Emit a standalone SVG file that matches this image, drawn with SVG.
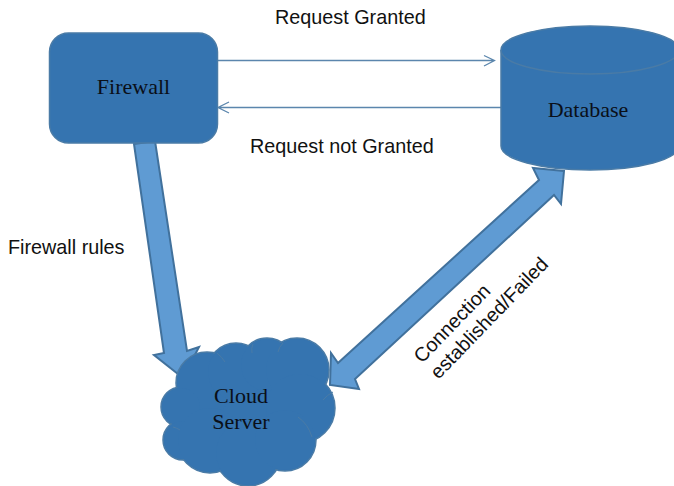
<svg xmlns="http://www.w3.org/2000/svg" width="674" height="486" viewBox="0 0 674 486">
<style>
.shape{fill:#3574b0;stroke:#4a7ba6;stroke-width:1.5}
.blk{fill:#3574b0;stroke:none}
.fat{fill:#5f9bd3;stroke:#41719c;stroke-width:2;stroke-linejoin:miter}
.thin{fill:none;stroke:#5b86ad;stroke-width:1.3}
.seam{fill:none;stroke:#4a7ba6;stroke-width:1}
.serif{font-family:"Liberation Serif",serif;font-size:22px;fill:#0a0f18;text-anchor:middle}
.sans{font-family:"Liberation Sans",Arial,sans-serif;font-size:19.8px;fill:#111}
</style>
<rect width="674" height="486" fill="#fff"/>
<g id="connectors">
<path class="thin" d="M217 60.500H494M484 55.500L494.500 60.500L484 66"/>
<path class="thin" d="M501 107.500H218M229 102L218 107.500L229 113"/>
<path class="fat" d="M134 144L155 141L187 351L199 347L183 378L154 355L164 353Z"/>
<path class="fat" d="M564 171L533 168L539 180L338 363L331 353L330 385L359 389L355 379L554 195L561 204Z"/>
</g>
<g id="firewall">
<rect class="shape" x="49.500" y="33" width="168" height="110" rx="19"/>
<text class="serif" x="133.500" y="94">Firewall</text>
</g>
<g id="database">
<path class="shape" d="M501 50A89 24 0 0 1 679 50V146A89 24 0 0 1 501 146Z"/>
<path d="M501 50A89 24 0 0 0 679 50" fill="none" stroke="#4a7ba6" stroke-width="1.500"/>
<text class="serif" x="588" y="117">Database</text>
</g>
<g id="cloud-server">
<g class="shape">
<circle cx="207" cy="383" r="31"/>
<circle cx="236" cy="372" r="29"/>
<circle cx="267" cy="365" r="27"/>
<circle cx="297" cy="370" r="32"/>
<circle cx="300" cy="408" r="35"/>
<circle cx="181" cy="407" r="20"/>
<circle cx="183" cy="440" r="20"/>
<circle cx="210" cy="440" r="33"/>
<circle cx="248" cy="453" r="33"/>
<circle cx="285" cy="440" r="31"/>
</g>
<path class="blk" d="M182 390L204 360L260 350L300 350L330 400L300 440L250 470L195 460L175 425Z"/>
<circle class="blk" cx="207" cy="383" r="30"/><circle class="blk" cx="236" cy="372" r="28"/><circle class="blk" cx="267" cy="365" r="26"/><circle class="blk" cx="297" cy="370" r="31"/><circle class="blk" cx="300" cy="408" r="34"/><circle class="blk" cx="181" cy="407" r="19"/><circle class="blk" cx="183" cy="440" r="19"/><circle class="blk" cx="210" cy="440" r="32"/><circle class="blk" cx="248" cy="453" r="32"/><circle class="blk" cx="285" cy="440" r="30"/>
<path class="seam" d="M323 400Q327 395 333 392M298 417Q308 424 312 437M173 427Q177 428 180 430M217 353Q222 357 225 362M252 353Q251 348 253 344M278 352Q279 347 283 343"/>
<text class="serif" x="241" y="403">Cloud</text>
<text class="serif" x="241" y="429">Server</text>
</g>
<g id="labels">
<text class="sans" x="275" y="24">Request Granted</text>
<text class="sans" x="250" y="153">Request not Granted</text>
<text class="sans" x="8" y="254">Firewall rules</text>
<g transform="translate(422 364) rotate(-46)">
<text class="sans" x="0" y="0">Connection</text>
<text class="sans" x="0" y="23">established/Failed</text>
</g>
</g>
</svg>
